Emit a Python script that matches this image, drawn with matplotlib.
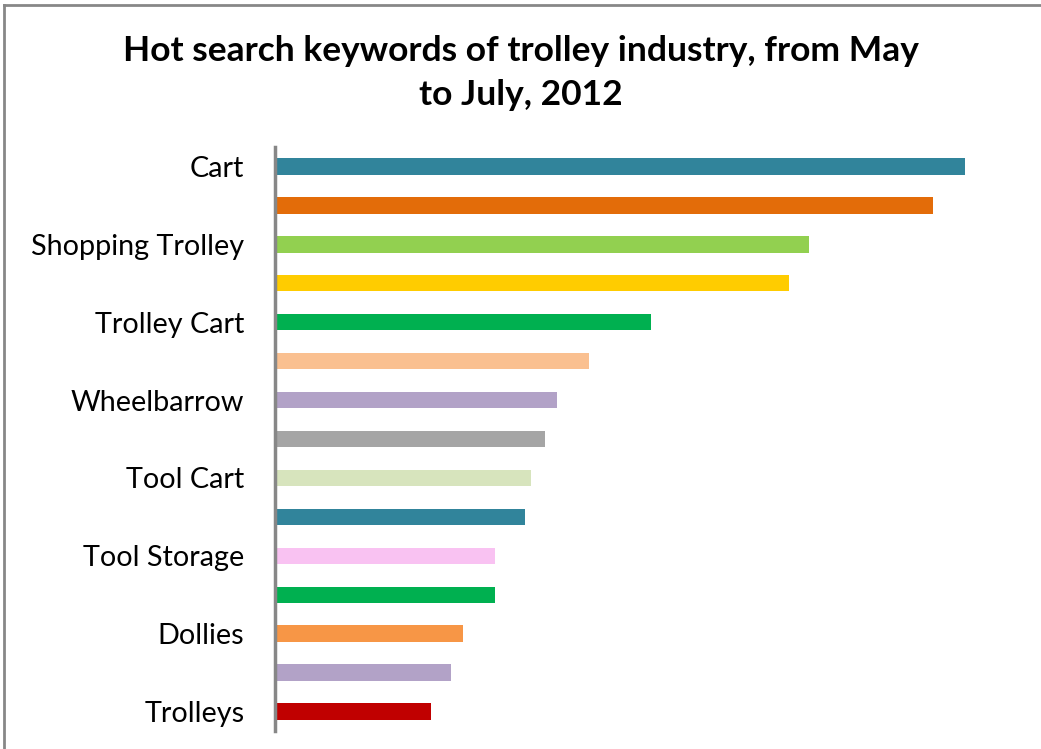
import matplotlib
matplotlib.use("Agg")
import matplotlib.pyplot as plt
from matplotlib.lines import Line2D

# keyword labels (only every other one is shown on the axis)
labels = ["Cart", "", "Shopping Trolley", "", "Trolley Cart", "", "Wheelbarrow", "",
          "Tool Cart", "", "Tool Storage", "", "Dollies", "", "Trolleys"]
values = [690, 658, 534, 514, 376, 314, 282, 270, 256, 250, 220, 220, 188, 176, 156]
colors = ["#31849B", "#E36C09", "#92D050", "#FFCC00", "#00B050", "#FAC090", "#B2A2C7",
          "#A5A5A5", "#D7E4BD", "#31849B", "#F9C2F2", "#00B050", "#F79646", "#B2A2C7",
          "#C00000"]

plt.rcParams['font.family'] = ['Lato', 'DejaVu Sans']

fig = plt.figure(figsize=(10.41, 7.49), dpi=100)
ax = fig.add_axes([275 / 1041, 18 / 749, 720 / 1041, 584 / 749])

pos = list(range(len(values)))
ax.barh(pos, values, height=0.42, color=colors, left=0)
ax.set_ylim(len(values) - 0.5, -0.5)
ax.set_xlim(0, 720)
ax.set_yticks(pos)
ax.set_yticklabels(labels, fontsize=20.7)
ax.tick_params(axis="y", length=0, pad=22)
ax.set_xticks([])
for s in ["top", "right", "bottom"]:
    ax.spines[s].set_visible(False)
ax.spines["left"].set_color("#878787")
ax.spines["left"].set_linewidth(2.5)

fig.text(0.5, 1 - 73 / 749, "Hot search keywords of trolley industry, from May\nto July, 2012",
         ha="center", va="center", fontsize=25.5, fontweight="bold", linespacing=1.45)

# outer chart frame (top and left edges visible)
fig.add_artist(Line2D([4 / 1041, 1], [1 - 5 / 749, 1 - 5 / 749], transform=fig.transFigure,
                      color="#878787", lw=2))
fig.add_artist(Line2D([4 / 1041, 4 / 1041], [0, 1 - 5 / 749], transform=fig.transFigure,
                      color="#878787", lw=2))

fig.savefig("out.png", dpi=100)
